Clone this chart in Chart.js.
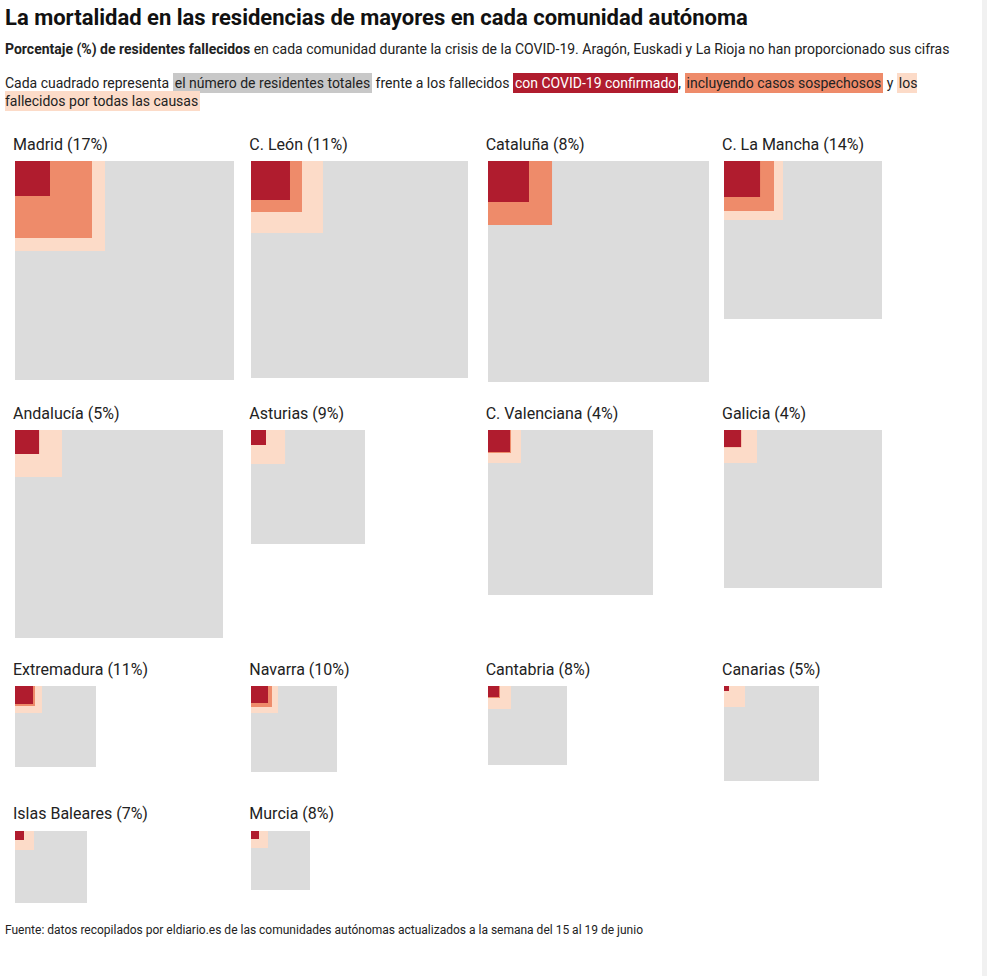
<!DOCTYPE html>
<html lang="es">
<head>
<meta charset="utf-8">
<title>Mortalidad en residencias</title>
<script src="https://cdn.jsdelivr.net/npm/chart.js@4.4.1/dist/chart.umd.min.js"></script>
<style>
  body { margin: 0; background: #fff; font-family: Roboto, sans-serif; color: #222; }
  #page { width: 960px; padding-left: 5px; }
  h1 { margin: 6px 0 0; font-size: 22px; line-height: 24px; font-weight: 700; color: #111; }
  .sub { margin: 9px 0 0; font-size: 14px; line-height: 20px; }
  .leyenda { margin: 14.5px 0 0; font-size: 14px; line-height: 18px; }
  .leyenda span { padding: 2px 2px; }
  .total { background: #c8c8c8; }
  .conf { background: #b01c2e; color: #fff; }
  .sosp { background: #ee8b6a; }
  .todas { background: #fcdbc8; }
  #grid { display: grid; grid-template-columns: repeat(4, 236.33px); margin: 25px 0 0 8px; }
  .panel h3 { margin: 0 0 6.3px; font-size: 16px; line-height: 20px; font-weight: 400; color: #222; }
  .panel canvas { display: block; margin: 0 0 22px 2px; }
  .fuente { margin: -2px 0 0; font-size: 12px; line-height: 14px; }
  #borde { position: fixed; top: 0; right: 0; width: 5px; height: 100%; background: #f1f1f1; }
</style>
</head>
<body>
<div id="page">
  <h1>La mortalidad en las residencias de mayores en cada comunidad autónoma</h1>
  <p class="sub"><strong>Porcentaje (%) de residentes fallecidos</strong> en cada comunidad durante la crisis de la COVID-19. Aragón, Euskadi y La Rioja no han proporcionado sus cifras</p>
  <p class="leyenda">Cada cuadrado representa <span class="total">el número de residentes totales</span> frente a los fallecidos <span class="conf">con COVID-19 confirmado</span>, <span class="sosp">incluyendo casos sospechosos</span> y <span class="todas">los fallecidos por todas las causas</span></p>
  <div id="grid"></div>
  <p class="fuente">Fuente: datos recopilados por eldiario.es de las comunidades autónomas actualizados a la semana del 15 al 19 de junio</p>
</div>
<div id="borde"></div>
<script>
// valores estimados a partir del gráfico (área de cada cuadrado = nº de personas)
const regiones = ['Madrid', 'C. León', 'Cataluña', 'C. La Mancha', 'Andalucía', 'Asturias', 'C. Valenciana', 'Galicia',
                  'Extremadura', 'Navarra', 'Cantabria', 'Canarias', 'Islas Baleares', 'Murcia'];
const residentes = [47960, 47090, 48840, 24960, 43260, 13000, 27230, 24960, 6560, 7400, 6240, 9030, 5180, 3480];
const fallecidosTodas = [8100, 5180, null, 3480, 2210, 1160, 1090, 1090, 730, 730, 530, 440, 360, 290];
const fallecidosSospecha = [5930, 2600, 4100, 2500, null, null, 530, 300, 400, 440, 144, null, null, null];
const fallecidosConfirmados = [1225, 1520, 1680, 1300, 580, 225, 484, 289, 324, 289, 121, 25, 81, 64];

const colores = ['#b01c2e', '#ee8b6a', '#fcdbc8', '#dcdcdc'];
const columnas = 4;
const ancho = 226;

function cuadrado(valor) {
  const lado = Math.sqrt(valor);
  return [{x: 0, y: 0}, {x: lado, y: 0}, {x: lado, y: lado}, {x: 0, y: lado}];
}

function dibujar(i, alto) {
  const grid = document.getElementById('grid');
  const panel = document.createElement('div');
  panel.className = 'panel';
  const pct = Math.round(100 * (fallecidosTodas[i] ?? fallecidosSospecha[i]) / residentes[i]);
  panel.innerHTML = `<h3>${regiones[i]} (${pct}%)</h3><canvas width="${ancho}" height="${alto}"></canvas>`;
  grid.appendChild(panel);

  // el primero queda encima
  const series = [fallecidosConfirmados[i], fallecidosSospecha[i], fallecidosTodas[i], residentes[i]];
  const datasets = [];
  series.forEach((v, k) => {
    if (v == null) return;
    datasets.push({ data: cuadrado(v), showLine: true, fill: 'shape', tension: 0,
      backgroundColor: colores[k], borderColor: 'rgba(0,0,0,0)', borderWidth: 0, pointRadius: 0 });
  });

  new Chart(panel.querySelector('canvas'), {
    type: 'scatter',
    data: { datasets },
    options: {
      responsive: false,
      animation: false,
      events: [],
      layout: { padding: 0, autoPadding: false },
      plugins: { legend: { display: false }, tooltip: { enabled: false } },
      scales: {
        x: { type: 'linear', display: false, min: 0, max: ancho },
        y: { type: 'linear', display: false, min: 0, max: alto, reverse: true }
      }
    }
  });
}

for (let r = 0; r < regiones.length; r += columnas) {
  const fila = residentes.slice(r, r + columnas);
  const alto = Math.ceil(Math.sqrt(Math.max(...fila)));
  fila.forEach((_, j) => dibujar(r + j, alto));
}
</script>
</body>
</html>
